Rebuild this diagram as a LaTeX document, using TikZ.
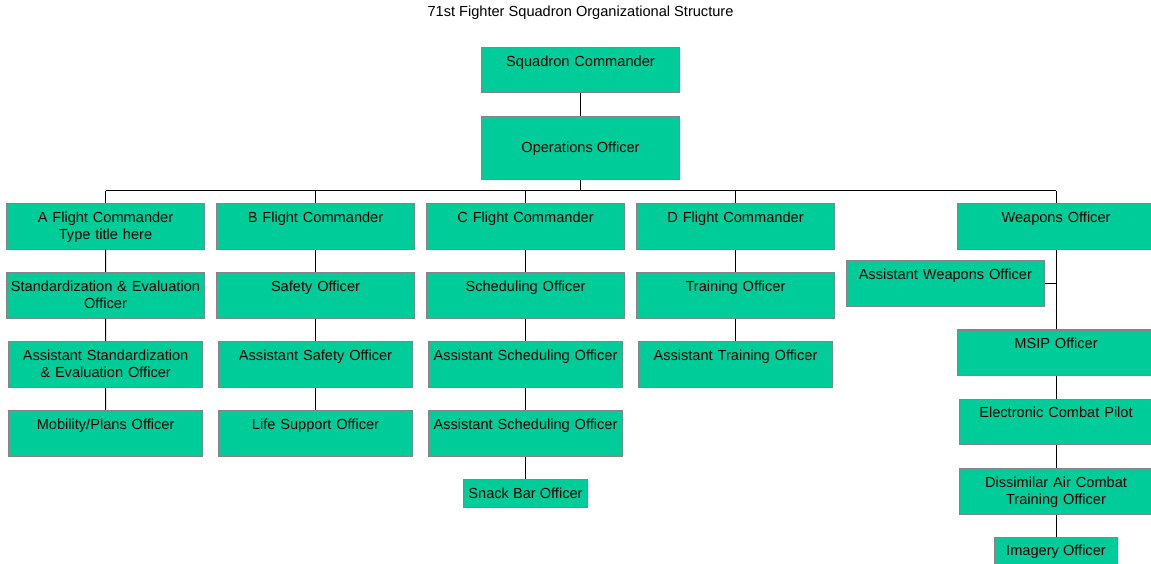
\documentclass[tikz,border=0pt]{standalone}
\usepackage{fontspec}
\setmainfont{Liberation Sans}
\definecolor{boxfill}{HTML}{00CC99}
\definecolor{boxline}{HTML}{858585}
\tikzset{
  txt/.style={font=\fontsize{14.6pt}{17.3pt}\selectfont, text=black},
  box/.style={txt, draw=boxline, line width=1.1pt, fill=boxfill, inner sep=0pt, align=center},
  topbox/.style 2 args={box, text width=#1, minimum width=#1, text height=18.8pt, text depth=#2},
  cbox/.style 2 args={box, minimum width=#1, minimum height=#2},
  conn/.style={draw=black, line width=1pt}
}
\begin{document}
\begin{tikzpicture}[x=1pt,y=-1pt]
\useasboundingbox (0,0) rectangle (1151,564);
\fill[white] (0,0) rectangle (1151,564);
\clip (0,0) rectangle (1151,564);
\node[txt] (title) at (580.5,12.5) {71st Fighter Squadron Organizational Structure};
\node[topbox={197.6pt}{26.2pt}] (sq) at (580.5,69.8) {Squadron Commander};
\node[cbox={197.6pt}{63.3pt}] (ops) at (580.5,148.3) {Operations Officer};
% flight commanders row
\node[topbox={197.6pt}{26.9pt}] (fa) at (105.5,226.2) {A Flight Commander\\Type title here};
\node[topbox={197.6pt}{26.9pt}] (fb) at (315.5,226.2) {B Flight Commander};
\node[topbox={197.6pt}{26.9pt}] (fc) at (525.5,226.2) {C Flight Commander};
\node[topbox={197.6pt}{26.9pt}] (fd) at (735.5,226.2) {D Flight Commander};
\node[topbox={197.6pt}{26.9pt}] (wo) at (1056,226.2) {Weapons Officer};
% row 2
\node[topbox={197.6pt}{26.9pt}] (se) at (105.5,295.2) {Standardization \& Evaluation\\Officer};
\node[topbox={197.6pt}{26.9pt}] (so) at (315.5,295.2) {Safety Officer};
\node[topbox={197.6pt}{26.9pt}] (sch) at (525.5,295.2) {Scheduling Officer};
\node[topbox={197.6pt}{26.9pt}] (tro) at (735.5,295.2) {Training Officer};
\node[topbox={197.3pt}{27.2pt}] (aw) at (945.3,283.7) {Assistant Weapons Officer};
% row 3
\node[topbox={193.5pt}{26.9pt}] (ase) at (105.6,364.4) {Assistant Standardization\\\& Evaluation Officer};
\node[topbox={193.5pt}{26.9pt}] (aso) at (315.5,364.4) {Assistant Safety Officer};
\node[topbox={193.5pt}{26.9pt}] (asch) at (525.5,364.4) {Assistant Scheduling Officer};
\node[topbox={193.5pt}{26.9pt}] (atr) at (735.5,364.4) {Assistant Training Officer};
% row 4
\node[topbox={193.5pt}{26.9pt}] (mob) at (105.6,433.4) {Mobility/Plans Officer};
\node[topbox={193.5pt}{26.9pt}] (lso) at (315.5,433.4) {Life Support Officer};
\node[topbox={193.5pt}{26.9pt}] (asch2) at (525.5,433.4) {Assistant Scheduling Officer};
\node[cbox={123.7pt}{28pt}] (snack) at (525.5,493.3) {Snack Bar Officer};
% weapons column
\node[topbox={197.6pt}{26.9pt}] (msip) at (1056,352.8) {MSIP Officer};
\node[topbox={193.5pt}{26.9pt}] (ecp) at (1056,422) {Electronic Combat Pilot};
\node[topbox={193.5pt}{26.9pt}] (dact) at (1056,491.2) {Dissimilar Air Combat\\Training Officer};
\node[cbox={123.7pt}{28pt}] (img) at (1056,551.3) {Imagery Officer};
% connectors
\coordinate (bus) at (580.5,191);
\draw[conn] (sq.south) -- (ops.north);
\draw[conn] (ops.south) -- (bus);
\draw[conn] (fa.north |- bus) -- (wo.north |- bus);
\foreach \n in {fa,fb,fc,fd,wo} \draw[conn] (\n.north) -- (\n.north |- bus);
\draw[conn] (fa) -- (se) (se) -- (ase) (ase) -- (mob);
\draw[conn] (fb) -- (so) (so) -- (aso) (aso) -- (lso);
\draw[conn] (fc) -- (sch) (sch) -- (asch) (asch) -- (asch2) (asch2) -- (snack);
\draw[conn] (fd) -- (tro) (tro) -- (atr);
\draw[conn] (wo.south) -- (msip.north);
\draw[conn] (aw.east) -- (aw.east -| wo.south);
\draw[conn] (msip) -- (ecp) (ecp) -- (dact) (dact) -- (img);
\end{tikzpicture}
\end{document}
